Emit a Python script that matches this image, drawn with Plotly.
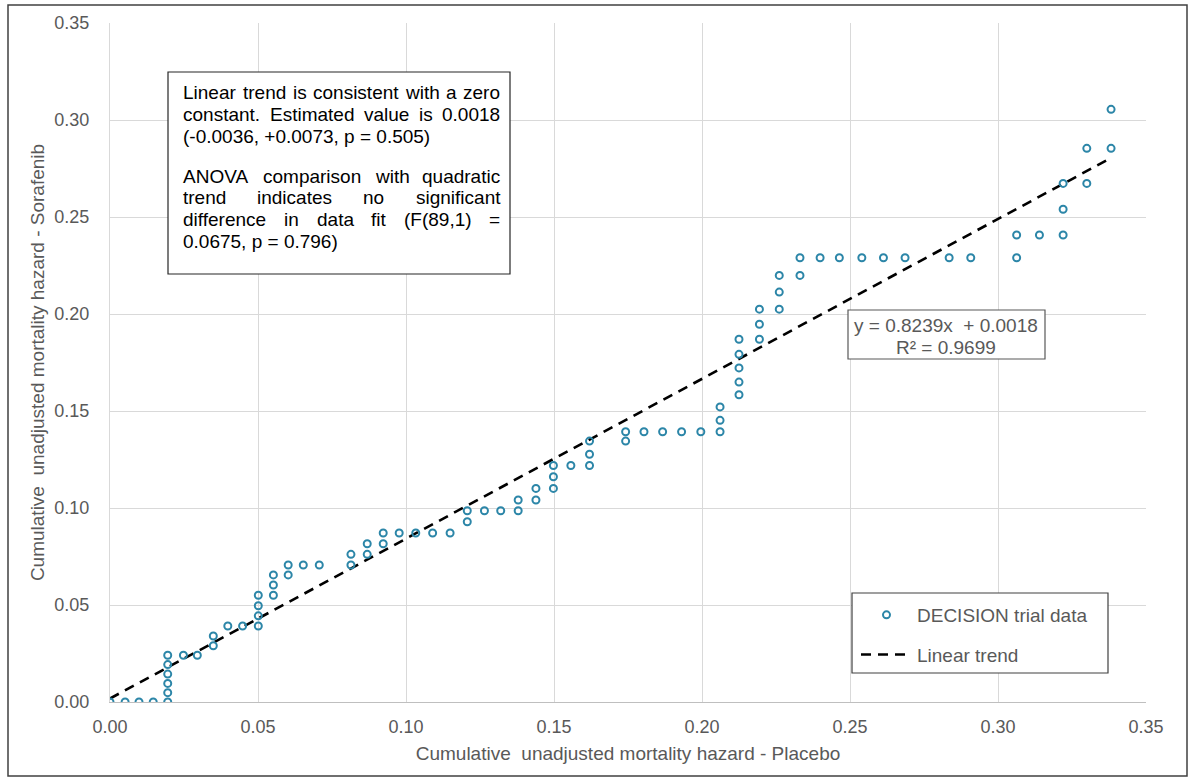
import plotly.graph_objects as go

# Cumulative unadjusted mortality hazard, paired by time point (DECISION trial)
placebo_hazard = [
    0.0000, 0.0051, 0.0098, 0.0146,
    0.0195, 0.0195, 0.0195, 0.0195, 0.0195, 0.0195,
    0.0248, 0.0295, 0.0349, 0.0349, 0.0398, 0.0448,
    0.0501, 0.0501, 0.0501, 0.0501,
    0.0552, 0.0552, 0.0552,
    0.0602, 0.0602, 0.0653, 0.0707,
    0.0814, 0.0814, 0.0869, 0.0869, 0.0923, 0.0923,
    0.0977, 0.1033, 0.1090, 0.1149,
    0.1207, 0.1207, 0.1265, 0.1320, 0.1379, 0.1379,
    0.1439, 0.1439, 0.1498, 0.1498, 0.1498, 0.1557,
    0.1620, 0.1620, 0.1620, 0.1742, 0.1742,
    0.1804, 0.1867, 0.1931, 0.1996,
    0.2061, 0.2061, 0.2061,
    0.2125, 0.2125, 0.2125, 0.2125, 0.2125,
    0.2194, 0.2194, 0.2194, 0.2261, 0.2261, 0.2261,
    0.2331, 0.2331, 0.2399, 0.2464, 0.2540, 0.2613, 0.2686, 0.2835, 0.2908,
    0.3063, 0.3063, 0.3140, 0.3220, 0.3220, 0.3220,
    0.3300, 0.3300, 0.3382, 0.3382,
]
sorafenib_hazard = [
    0.0000, 0.0000, 0.0000, 0.0000,
    0.0000, 0.0048, 0.0096, 0.0144, 0.0193, 0.0241,
    0.0241, 0.0241, 0.0290, 0.0340, 0.0392, 0.0392,
    0.0392, 0.0444, 0.0496, 0.0550,
    0.0550, 0.0603, 0.0655,
    0.0655, 0.0706, 0.0706, 0.0706,
    0.0706, 0.0761, 0.0761, 0.0816, 0.0816, 0.0871,
    0.0871, 0.0871, 0.0871, 0.0871,
    0.0929, 0.0986, 0.0986, 0.0986, 0.0986, 0.1041,
    0.1041, 0.1101, 0.1101, 0.1161, 0.1219, 0.1219,
    0.1219, 0.1277, 0.1345, 0.1345, 0.1393,
    0.1393, 0.1393, 0.1393, 0.1393,
    0.1393, 0.1452, 0.1521,
    0.1584, 0.1649, 0.1722, 0.1792, 0.1870,
    0.1870, 0.1947, 0.2025, 0.2025, 0.2113, 0.2199,
    0.2199, 0.2290, 0.2290, 0.2290, 0.2290, 0.2290, 0.2290, 0.2290, 0.2290,
    0.2290, 0.2407, 0.2407, 0.2407, 0.2540, 0.2673,
    0.2673, 0.2854, 0.2854, 0.3055,
]

# Least-squares fit reported on the chart
trend_slope = 0.8239
trend_intercept = 0.0018
trend_r2 = 0.9699

axis_ticks = [0.00, 0.05, 0.10, 0.15, 0.20, 0.25, 0.30, 0.35]

# Note text: (line, justified?) -- last line of each paragraph is ragged
note_lines = [
    ("Linear trend is consistent with a zero", True),
    ("constant. Estimated value is 0.0018", True),
    ("(-0.0036, +0.0073, p = 0.505)", False),
    ("ANOVA comparison with quadratic", True),
    ("trend indicates no significant", True),
    ("difference in data fit (F(89,1) =", True),
    ("0.0675, p = 0.796)", False),
]

FONT = "Liberation Sans, Arial, sans-serif"
GREY_TEXT = "#595959"
MARKER_BLUE = "#2C86A8"

# Plot-area geometry in pixels
W_FIG, H_FIG = 1195, 780
P_LEFT, P_RIGHT, P_TOP, P_BOTTOM = 110, 1146, 23, 702


def px_x(x):
    return (x - P_LEFT) / (P_RIGHT - P_LEFT)


def px_y(y):
    return (P_BOTTOM - y) / (P_BOTTOM - P_TOP)


# Advance widths (per 1000 em) of Liberation Sans, used to justify the note
GLYPH_W = {" ": 278, "(": 333, ")": 333, "+": 584, ",": 278, "-": 333,
           ".": 278, "=": 584, "A": 667, "C": 722, "D": 722, "E": 667,
           "F": 611, "I": 278, "L": 556, "N": 722, "O": 778, "S": 667,
           "V": 667, "a": 556, "c": 500, "d": 556, "e": 556, "f": 278,
           "g": 556, "h": 556, "i": 222, "l": 222, "m": 833, "n": 556,
           "o": 556, "p": 556, "q": 556, "r": 333, "s": 500, "t": 278,
           "u": 556, "v": 500, "w": 722, "x": 500, "y": 500, "z": 500}


def text_width(s, size):
    return sum(GLYPH_W.get(c, 556) for c in s) * size / 1000.0


trend_x = [0.0, max(placebo_hazard)]
trend_y = [trend_slope * v + trend_intercept for v in trend_x]

fig = go.Figure()

fig.add_trace(go.Scatter(
    x=trend_x, y=trend_y, mode="lines", name="Linear trend",
    line=dict(color="black", width=2.6, dash="10px,7px"),
    legendgroup="b", legendrank=2,
))
fig.add_trace(go.Scatter(
    x=placebo_hazard, y=sorafenib_hazard, mode="markers",
    name="DECISION trial data",
    marker=dict(symbol="circle-open", size=7, color=MARKER_BLUE,
                line=dict(color=MARKER_BLUE, width=2)),
    legendgroup="a", legendrank=1,
))

axis_common = dict(
    range=[0, 0.35], tickvals=axis_ticks,
    ticktext=[f"{t:.2f}" for t in axis_ticks],
    showgrid=True, gridcolor="#d9d9d9", gridwidth=1,
    zeroline=False, ticks="",
    tickfont=dict(family=FONT, size=18, color=GREY_TEXT),
    fixedrange=True,
)

fig.update_xaxes(
    **axis_common,
    showline=True, linecolor="#bfbfbf", linewidth=1,
    ticklabelstandoff=8,
    title=dict(text="Cumulative\u00a0 unadjusted mortality hazard - Placebo",
               font=dict(family=FONT, size=19, color=GREY_TEXT), standoff=11),
)
fig.update_yaxes(
    **axis_common,
    showline=True, linecolor="#d9d9d9", linewidth=1,
    ticklabelstandoff=16,
    title=dict(text="Cumulative\u00a0 unadjusted mortality hazard - Sorafenib",
               font=dict(family=FONT, size=19, color=GREY_TEXT), standoff=4),
)

NOTE_LEFT, NOTE_RIGHT, NOTE_TOP, NOTE_BOTTOM = 168, 510, 72, 274
TEXT_LEFT, TEXT_RIGHT = 181, 498
NOTE_SIZE = 19

shapes = [
    # outer chart frame
    dict(type="rect", xref="paper", yref="paper",
         x0=px_x(8), x1=px_x(1187), y0=px_y(5), y1=px_y(776),
         line=dict(color="#404040", width=1.5), layer="below"),
    # note box
    dict(type="rect", xref="paper", yref="paper",
         x0=px_x(NOTE_LEFT), x1=px_x(NOTE_RIGHT),
         y0=px_y(NOTE_TOP), y1=px_y(NOTE_BOTTOM),
         line=dict(color="#262626", width=1.2), fillcolor="white"),
    # equation box
    dict(type="rect", xref="paper", yref="paper",
         x0=px_x(848), x1=px_x(1045), y0=px_y(310), y1=px_y(359),
         line=dict(color="#595959", width=1.2), fillcolor="white"),
    # legend frame
    dict(type="rect", xref="paper", yref="paper",
         x0=px_x(852), x1=px_x(1108), y0=px_y(593), y1=px_y(673),
         line=dict(color="#404040", width=1.2), fillcolor="white"),
]

annotations = []
note_y = [93, 115, 137, 177, 198, 220, 242]
for (line, justified), yy in zip(note_lines, note_y):
    words = line.split(" ")
    if justified and len(words) > 1:
        widths = [text_width(w, NOTE_SIZE) for w in words]
        gap = (TEXT_RIGHT - TEXT_LEFT - sum(widths)) / (len(words) - 1)
        gap = max(gap, text_width(" ", NOTE_SIZE))
        pieces, xpos = [], TEXT_LEFT
        for w, wd in zip(words, widths):
            pieces.append((w, xpos))
            xpos += wd + gap
    else:
        pieces = [(line, TEXT_LEFT)]
    for text, xx in pieces:
        annotations.append(dict(
            xref="paper", yref="paper", x=px_x(xx), y=px_y(yy),
            xanchor="left", yanchor="middle", showarrow=False, text=text,
            font=dict(family=FONT, size=NOTE_SIZE, color="black"),
        ))

annotations.append(dict(
    xref="paper", yref="paper", x=px_x(946), y=px_y(325),
    xanchor="center", yanchor="middle", showarrow=False,
    text=f"y = {trend_slope:.4f}x\u00a0 + {trend_intercept:.4f}",
    font=dict(family=FONT, size=19, color=GREY_TEXT),
))
annotations.append(dict(
    xref="paper", yref="paper", x=px_x(946), y=px_y(347),
    xanchor="center", yanchor="middle", showarrow=False,
    text=f"R\u00b2 = {trend_r2:.4f}",
    font=dict(family=FONT, size=19, color=GREY_TEXT),
))

fig.update_layout(
    width=W_FIG, height=H_FIG,
    margin=dict(l=P_LEFT, r=W_FIG - P_RIGHT, t=P_TOP, b=H_FIG - P_BOTTOM,
                autoexpand=False),
    paper_bgcolor="white", plot_bgcolor="white",
    shapes=shapes, annotations=annotations,
    showlegend=True,
    legend=dict(
        x=px_x(856), y=px_y(596), xanchor="left", yanchor="top",
        bgcolor="rgba(0,0,0,0)", borderwidth=0,
        font=dict(family=FONT, size=19, color=GREY_TEXT),
        traceorder="grouped", tracegroupgap=12, itemwidth=51,
    ),
)

fig.write_html("out.html")
